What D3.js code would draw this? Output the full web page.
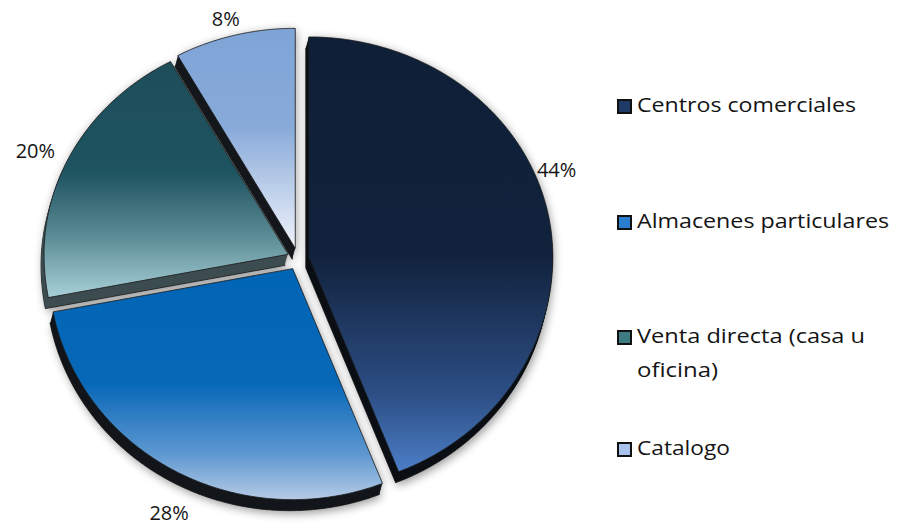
<!DOCTYPE html>
<html>
<head>
<meta charset="utf-8">
<script src="https://cdn.jsdelivr.net/npm/d3@7"></script>
<style>
  html, body { margin: 0; padding: 0; background: #fff; }
  svg { display: block; }
</style>
</head>
<body>
<svg id="chart" width="899" height="527"></svg>
<script>
// ---- data ----
const categories = ["Centros comerciales", "Almacenes particulares", "Venta directa (casa u oficina)", "Catalogo"];
const shares = [44, 28, 20, 8];
const legendLines = [["Centros comerciales"], ["Almacenes particulares"], ["Venta directa (casa u", "oficina)"], ["Catalogo"]];

// ---- styling ----
const faceStops = [
  [[0, "#0f1f38"], [0.5, "#11223c"], [0.82, "#2c4e84"], [1, "#4c7ec7"]],
  [[0, "#0064b5"], [0.5, "#0868b8"], [0.8, "#5d97d0"], [1, "#b5cbe6"]],
  [[0, "#1e4d5a"], [0.47, "#1e5360"], [0.75, "#5e8e97"], [1, "#a8d0d8"]],
  [[0, "#7ea4d6"], [0.45, "#88aad9"], [1, "#f0f3fa"]]
];
const wallColors = ["#0c1016", "#13161b", "#3d4d51", "#15181c"];
const swatchColors = ["#1f3a66", "#2a7ed0", "#3d7a82", "#a7c3ec"];
const labelAngleShift = [-10.5, -3, -1, -1];   // degrees
const labelPad = [22, 40, 33, 18];
const legendY = [112, 228, 343, 455];
const legendWidths = [[219], [252], [228, 81], [93]];

const cx = 298, cy = 259;                   // pie centre
const rx = 244, ryTop = 220, ryBot = 231;   // slightly perspective-stretched ellipse
const explode = 11;
const depth = { x: -3, y: 11 };
const depthSteps = 14;

const svg = d3.select("#chart");
const defs = svg.append("defs");

// soft shadow
const f = defs.append("filter").attr("id", "shadow")
  .attr("x", "-20%").attr("y", "-20%").attr("width", "140%").attr("height", "140%");
f.append("feGaussianBlur").attr("stdDeviation", 5);

// face gradients
faceStops.forEach((stops, i) => {
  const g = defs.append("linearGradient").attr("id", "face" + i)
    .attr("x1", 0).attr("y1", 0).attr("x2", 0).attr("y2", 1);
  stops.forEach(s => g.append("stop").attr("offset", s[0]).attr("stop-color", s[1]));
});

const pie = d3.pie().sort(null).value(d => d);
const arcs = pie(shares);

function ellipsePoint(a, ox, oy, pad = 0) {
  const c = Math.cos(a), s = Math.sin(a);
  const ry = (c > 0 ? ryTop : ryBot) + pad;
  return [ox + (rx + pad) * s, oy - ry * c];
}

const line = d3.line();
function slicePath(d, ox, oy) {
  const pts = [[ox, oy]];
  const n = Math.max(8, Math.ceil((d.endAngle - d.startAngle) / 0.01));
  for (let k = 0; k <= n; k++) {
    const a = d.startAngle + (d.endAngle - d.startAngle) * k / n;
    pts.push(ellipsePoint(a, ox, oy));
  }
  return line(pts) + "Z";
}

function sliceOrigin(d) {
  const mid = (d.startAngle + d.endAngle) / 2;
  return [cx + explode * Math.sin(mid), cy - explode * Math.cos(mid)];
}

// shadow layer
const shadowG = svg.append("g").attr("filter", "url(#shadow)").attr("opacity", 0.4);
arcs.forEach(d => {
  const [ox, oy] = sliceOrigin(d);
  shadowG.append("path").attr("d", slicePath(d, ox + depth.x + 2, oy + depth.y + 3)).attr("fill", "#000");
  shadowG.append("path").attr("d", slicePath(d, ox + 1, oy + 2)).attr("fill", "#000");
});

// extruded sides
const wallG = svg.append("g");
arcs.forEach((d, i) => {
  const [ox, oy] = sliceOrigin(d);
  for (let t = depthSteps; t >= 1; t--) {
    wallG.append("path")
      .attr("d", slicePath(d, ox + depth.x * t / depthSteps, oy + depth.y * t / depthSteps))
      .attr("fill", wallColors[i])
      .attr("stroke", t === depthSteps ? "#111" : "none")
      .attr("stroke-width", 0.8);
  }
});

// top faces
const faceG = svg.append("g");
arcs.forEach((d, i) => {
  const [ox, oy] = sliceOrigin(d);
  faceG.append("path")
    .attr("d", slicePath(d, ox, oy))
    .attr("fill", `url(#face${i})`)
    .attr("stroke", "#1a1a1a")
    .attr("stroke-width", 0.8)
    .attr("stroke-linejoin", "round");
});

// percentage labels
const total = d3.sum(shares);
const labelG = svg.append("g")
  .attr("font-family", "'Open Sans', sans-serif")
  .attr("font-size", 20)
  .attr("fill", "#141414");
arcs.forEach((d, i) => {
  const [ox, oy] = sliceOrigin(d);
  const mid = (d.startAngle + d.endAngle) / 2 + labelAngleShift[i] * Math.PI / 180;
  const [lx, ly] = ellipsePoint(mid, ox, oy, labelPad[i]);
  labelG.append("text")
    .attr("x", lx).attr("y", ly)
    .attr("text-anchor", "middle")
    .attr("dominant-baseline", "central")
    .text(Math.round(d.data / total * 100) + "%");
});

// legend
const legG = svg.append("g")
  .attr("font-family", "'Open Sans', sans-serif")
  .attr("font-size", 20)
  .attr("fill", "#141414");
categories.forEach((c, i) => {
  const y = legendY[i];
  legG.append("rect")
    .attr("x", 618).attr("y", y - 12)
    .attr("width", 13).attr("height", 13)
    .attr("fill", swatchColors[i])
    .attr("stroke", "#111").attr("stroke-width", 2);
  legendLines[i].forEach((txt, j) => {
    legG.append("text")
      .attr("x", 637).attr("y", y + j * 34)
      .attr("textLength", legendWidths[i][j])
      .attr("lengthAdjust", "spacingAndGlyphs")
      .text(txt);
  });
});
</script>
</body>
</html>
